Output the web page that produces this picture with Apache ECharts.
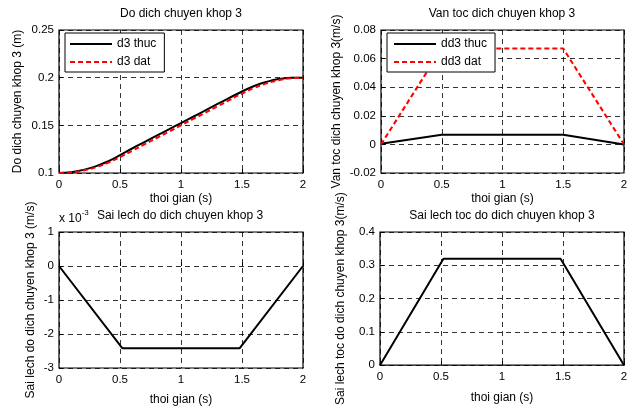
<!DOCTYPE html>
<html>
<head>
<meta charset="utf-8">
<script src="https://cdn.jsdelivr.net/npm/echarts@6/dist/echarts.min.js"></script>
<style>
html, body { margin: 0; padding: 0; background: #fff; }
#main { width: 635px; height: 407px; }
</style>
</head>
<body>
<div id="main"></div>
<script>
// thoi gian (s)
var t = [0, 0.1, 0.2, 0.3, 0.4, 0.5, 0.6, 0.7, 0.8, 0.9, 1, 1.1, 1.2, 1.3, 1.4, 1.5, 1.6, 1.7, 1.8, 1.9, 2];
var d3Thuc = [0.1, 0.1009, 0.1033, 0.107, 0.1122, 0.1187, 0.1257, 0.1324, 0.1391, 0.1457, 0.1524, 0.159, 0.1657, 0.1724, 0.179, 0.1855, 0.1912, 0.1955, 0.1985, 0.1998, 0.2];
var d3Dat = [0.1, 0.1007, 0.1027, 0.106, 0.1107, 0.1167, 0.1233, 0.13, 0.1367, 0.1433, 0.15, 0.1567, 0.1633, 0.17, 0.1767, 0.1833, 0.1893, 0.194, 0.1973, 0.1993, 0.2];
var tKnee = [0, 0.5, 1.5, 2];
var dd3Thuc = [0.0005, 0.0068, 0.0068, 0];
var dd3Dat = [0, 0.067, 0.067, 0];
var tErr = [0, 0.52, 1.48, 2];
var errPos = [0, -2.42, -2.42, 0];   // x 10^-3
var errVel = [0, 0.32, 0.32, 0];

var chart = echarts.init(document.getElementById('main'));
var fontFam = 'Liberation Sans, Arial, sans-serif';

function pairs(xs, ys) {
    return xs.map(function (x, i) { return [x, ys[i]]; });
}

var grids = [
    { left: 59, top: 30, width: 244, height: 143 },
    { left: 381, top: 30, width: 243, height: 143 },
    { left: 59, top: 232, width: 244, height: 142 },
    { left: 380, top: 232, width: 244, height: 142 }
];
grids.forEach(function (g) {
    g.show = true;
    g.borderColor = '#000';
    g.borderWidth = 1.2;
    g.backgroundColor = '#fff';
});

var gridLine = { show: true, lineStyle: { color: '#000', type: [5, 4], width: 0.8 } };

function xAxis(i, gap) {
    return {
        type: 'value', gridIndex: i, min: 0, max: 2, interval: 0.5,
        name: 'thoi gian (s)', nameLocation: 'middle', nameGap: gap,
        nameTextStyle: { color: '#000', fontSize: 12, fontFamily: fontFam },
        axisLine: { show: false },
        axisTick: { show: true, inside: true, length: 4, lineStyle: { color: '#000' } },
        axisLabel: { color: '#000', fontSize: 11.5, fontFamily: fontFam, margin: 6 },
        splitLine: gridLine
    };
}
function yAxis(i, min, max, step, name, gap) {
    return {
        type: 'value', gridIndex: i, min: min, max: max, interval: step,
        name: name, nameLocation: 'middle', nameGap: gap,
        nameTextStyle: { color: '#000', fontSize: 12, fontFamily: fontFam },
        axisLine: { show: false },
        axisTick: { show: true, inside: true, length: 4, lineStyle: { color: '#000' } },
        axisLabel: { color: '#000', fontSize: 11.5, fontFamily: fontFam, margin: 5 },
        splitLine: gridLine
    };
}

var titleStyle = { color: '#000', fontSize: 12, fontWeight: 'normal', fontFamily: fontFam };
var legendBase = {
    orient: 'vertical', itemGap: 6, itemWidth: 42, itemHeight: 10,
    backgroundColor: '#fff', borderColor: '#000', borderWidth: 1,
    itemStyle: { opacity: 0, borderWidth: 0 },
    textStyle: { color: '#000', fontSize: 12, fontFamily: fontFam }
};

var option = {
    animation: false,
    backgroundColor: '#fff',
    title: [
        { text: 'Do dich chuyen khop 3', left: 181, top: 8, textAlign: 'center', padding: 0, textStyle: titleStyle },
        { text: 'Van toc dich chuyen khop 3', left: 502, top: 8, textAlign: 'center', padding: 0, textStyle: titleStyle },
        { text: 'Sai lech do dich chuyen khop 3', left: 180, top: 210, textAlign: 'center', padding: 0, textStyle: titleStyle },
        { text: 'Sai lech toc do dich chuyen khop 3', left: 502, top: 210, textAlign: 'center', padding: 0, textStyle: titleStyle },
        {
            text: '{n|x 10}{s|-3}', left: 59, top: 209, padding: 0,
            textStyle: {
                fontWeight: 'normal',
                rich: {
                    n: { color: '#000', fontSize: 12, fontWeight: 'normal', fontFamily: fontFam, verticalAlign: 'bottom', padding: [4, 0, 0, 0] },
                    s: { color: '#000', fontSize: 8, fontWeight: 'normal', fontFamily: fontFam, verticalAlign: 'top' }
                }
            }
        }
    ],
    legend: [
        Object.assign({}, legendBase, { data: ['d3 thuc', 'd3 dat'], left: 65, top: 33, padding: [5, 8, 4, 4] }),
        Object.assign({}, legendBase, { data: ['dd3 thuc', 'dd3 dat'], left: 387, top: 33, padding: [5, 8, 4, 6] })
    ],
    grid: grids,
    xAxis: [xAxis(0, 20), xAxis(1, 20), xAxis(2, 26), xAxis(3, 26)],
    yAxis: [
        yAxis(0, 0.1, 0.25, 0.05, 'Do dich chuyen khop 3 (m)', 35),
        yAxis(1, -0.02, 0.08, 0.02, 'Van toc dich chuyen khop 3(m/s)', 38),
        yAxis(2, -3, 1, 1, 'Sai lech do dich chuyen khop 3 (m/s)', 22),
        yAxis(3, 0, 0.4, 0.1, 'Sai lech toc do dich chuyen khop 3(m/s)', 33)
    ],
    series: [
        { name: 'd3 thuc', type: 'line', xAxisIndex: 0, yAxisIndex: 0, symbol: 'none', smooth: true,
          data: pairs(t, d3Thuc), lineStyle: { color: '#000', width: 2 }, itemStyle: { color: '#000' } },
        { name: 'd3 dat', type: 'line', xAxisIndex: 0, yAxisIndex: 0, symbol: 'none', smooth: true,
          data: pairs(t, d3Dat), lineStyle: { color: '#ff0000', width: 2, type: [5, 3] }, itemStyle: { color: '#ff0000' } },
        { name: 'dd3 thuc', type: 'line', xAxisIndex: 1, yAxisIndex: 1, symbol: 'none',
          data: pairs(tKnee, dd3Thuc), lineStyle: { color: '#000', width: 2 }, itemStyle: { color: '#000' } },
        { name: 'dd3 dat', type: 'line', xAxisIndex: 1, yAxisIndex: 1, symbol: 'none',
          data: pairs(tKnee, dd3Dat), lineStyle: { color: '#ff0000', width: 2, type: [5, 3] }, itemStyle: { color: '#ff0000' } },
        { name: 'sai lech d3', type: 'line', xAxisIndex: 2, yAxisIndex: 2, symbol: 'none',
          data: pairs(tErr, errPos), lineStyle: { color: '#000', width: 2 }, itemStyle: { color: '#000' } },
        { name: 'sai lech dd3', type: 'line', xAxisIndex: 3, yAxisIndex: 3, symbol: 'none',
          data: pairs(tErr, errVel), lineStyle: { color: '#000', width: 2 }, itemStyle: { color: '#000' } }
    ]
};
chart.setOption(option);
</script>
</body>
</html>
